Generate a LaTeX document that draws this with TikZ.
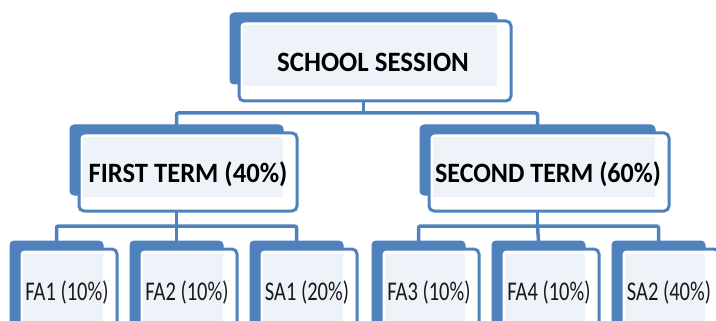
\documentclass[tikz,border=0pt]{standalone}
\usepackage{fontspec}
\setmainfont{Carlito}
\usetikzlibrary{calc}
\definecolor{obl}{HTML}{4F81BD}
\definecolor{olt}{HTML}{EEF2F9}
\newcommand{\tbox}[7]{%
  \node[backbox, minimum width=#4pt, minimum height=#5pt] (#1b) at (#2,#3) {};
  \node[frontbox, minimum width=#6pt, minimum height=#7pt] (#1) at ($(#2,#3)+(9,8)$) {};
  \fill[innerfill] ($(#1.north west)+(3.5,4.5)$) rectangle ($(#1b.south east)+(0,2)$);
}
\begin{document}
\begin{tikzpicture}[x=1pt,y=-1pt,
  backbox/.style={draw=obl, fill=obl, line width=1pt, rounded corners=4pt, anchor=north west, inner sep=0pt, outer sep=0pt},
  frontbox/.style={draw=obl, fill=white, line width=3pt, rounded corners=5pt, anchor=north west, inner sep=0pt, outer sep=0pt},
  innerfill/.style={fill=olt},
  conn/.style={draw=obl, line width=3.5pt, rounded corners=2pt},
  headtxt/.style={font=\fontsize{28}{28}\selectfont\bfseries, text=black, inner sep=0pt},
  leaftxt/.style={font=\fontsize{27}{27}\selectfont, text=black!90, inner sep=0pt},
]
\useasboundingbox (0,0) rectangle (716,321);
\clip (0,0) rectangle (716,321);

\tbox{ss}{230}{13}{267}{71}{272}{80}
\tbox{ft}{70}{125}{213}{70}{218}{78}
\tbox{st}{420}{125}{235}{70}{240}{78}
\tbox{fa1}{10}{241}{93}{100}{98}{100}
\tbox{fa2}{130}{241}{93}{100}{98}{100}
\tbox{sa1}{250}{241}{93}{100}{98}{100}
\tbox{fa3}{372}{241}{93}{100}{98}{100}
\tbox{fa4}{492}{241}{93}{100}{98}{100}
\tbox{sa2}{612}{241}{93}{100}{98}{100}

\node[headtxt] (ssT) at ($(ss.center)+(-2,1)$) {\scalebox{0.96}[1]{SCHOOL SESSION}};
\node[headtxt] (ftT) at ($(ft.center)+(0,2)$) {\scalebox{0.95}[1]{FIRST TERM (40\%)}};
\node[headtxt] (stT) at ($(st.center)+(-1,2)$) {\scalebox{0.93}[1]{SECOND TERM (60\%)}};
\node[leaftxt] (fa1T) at ($(fa1.north)+(-1,43)$) {\scalebox{0.76}[1]{FA1 (10\%)}};
\node[leaftxt] (fa2T) at ($(fa2.north)+(-1,43)$) {\scalebox{0.76}[1]{FA2 (10\%)}};
\node[leaftxt] (sa1T) at ($(sa1.north)+(-1,43)$) {\scalebox{0.76}[1]{SA1 (20\%)}};
\node[leaftxt] (fa3T) at ($(fa3.north)+(-1,43)$) {\scalebox{0.76}[1]{FA3 (10\%)}};
\node[leaftxt] (fa4T) at ($(fa4.north)+(-1,43)$) {\scalebox{0.76}[1]{FA4 (10\%)}};
\node[leaftxt] (sa2T) at ($(sa2.north)+(-1,43)$) {\scalebox{0.76}[1]{SA2 (40\%)}};

\draw[conn] (ssb.center |- ss.south) -- ++(0,12) coordinate (ssJ);
\draw[conn] (ftb.north) |- (ssJ) -| (stb.north);
\draw[conn] (ftb.center |- ft.south) -- ++(0,15) coordinate (ftJ);
\draw[conn] (fa1b.north) |- (ftJ) -| (sa1b.north);
\draw[conn] (ftJ) -- (fa2b.north);
\draw[conn] (stb.center |- st.south) -- ++(0,15) coordinate (stJ);
\draw[conn] (fa3b.north) |- (stJ) -| (sa2b.north);
\draw[conn] (stJ) -- (fa4b.north);
\end{tikzpicture}
\end{document}
